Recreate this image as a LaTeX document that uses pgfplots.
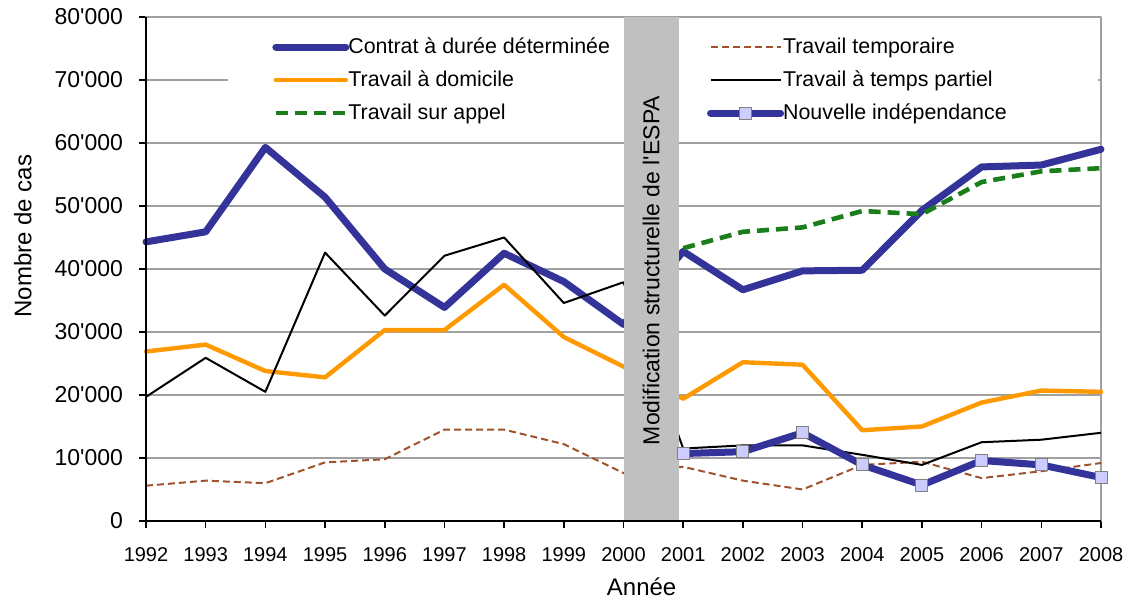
\documentclass[border=0pt]{standalone}
\usepackage{pgfplots}
\pgfplotsset{compat=1.18}
\usepackage{fontspec}
\setmainfont{Liberation Sans}[Ligatures=TeXOff]
\definecolor{cdd}{HTML}{333399}
\definecolor{ctemp}{HTML}{A0522D}
\definecolor{cdom}{HTML}{FF9900}
\definecolor{capp}{HTML}{1A7F1A}
\definecolor{cband}{HTML}{C0C0C0}
\definecolor{cgrid}{HTML}{A0A0A0}
\definecolor{csq}{HTML}{CCCCFF}
\begin{document}
\begin{tikzpicture}
\begin{axis}[
  scale only axis, width=477.5pt, height=252pt,
  xmin=1992, xmax=2008, ymin=0, ymax=80000,
  clip=false,
  scaled y ticks=false, scaled x ticks=false,
  xtick={1992,1993,1994,1995,1996,1997,1998,1999,2000,2001,2002,2003,2004,2005,2006,2007,2008},
  xticklabels={1992,1993,1994,1995,1996,1997,1998,1999,2000,2001,2002,2003,2004,2005,2006,2007,2008},
  ytick={0,10000,20000,30000,40000,50000,60000,70000,80000},
  yticklabels={0,10'000,20'000,30'000,40'000,50'000,60'000,70'000,80'000},
  xtick pos=left, ytick pos=left,
  tick align=outside, major tick length=3.5pt,
  tick style={black, line width=0.8pt},
  axis line style={cgrid, line width=1pt},
  ymajorgrids, grid style={cgrid, line width=1pt},
  xticklabel style={font=\fontsize{10}{12}\selectfont, yshift=-6pt},
  yticklabel style={font=\fontsize{11.5}{13}\selectfont, xshift=-4.5pt},
  xlabel={Année}, ylabel={Nombre de cas},
  label style={font=\fontsize{12}{14}\selectfont},
  xlabel style={at={(axis description cs:0.519,-0.131)}, anchor=center},
  ylabel style={at={(axis description cs:-0.129,0.565)}, anchor=center},
  legend columns=2,
  legend cell align=left,
  legend image code/.code={\draw[mark repeat=2,mark phase=2,#1] plot coordinates {(0pt,0pt) (17.5pt,0pt) (35pt,0pt)};},
  legend style={draw=none, fill=none, at={(axis description cs:0.1319,0.961)}, anchor=north west,
    inner xsep=0pt, inner ysep=0pt, column sep=-0.5pt, row sep=6.5pt,
    /tikz/every even column/.append style={column sep=48.5pt},
    nodes={inner sep=0pt, text height=8pt, text depth=2pt},
    font=\fontsize{10.7}{12}\selectfont},
  line join=round,
]
\addplot[cdd, line width=3.5pt, line cap=round, mark=none] coordinates {
(1992,44300)(1993,45900)(1994,59300)(1995,51400)(1996,40000)(1997,33900)(1998,42500)(1999,38000)(2000,31200)(2001,42800)(2002,36700)(2003,39700)(2004,39800)(2005,49300)(2006,56200)(2007,56500)(2008,59000)};
\addlegendentry{Contrat à durée déterminée}
\addplot[ctemp, line width=1pt, dash pattern=on 3.5pt off 2pt, mark=none] coordinates {
(1992,5600)(1993,6400)(1994,6000)(1995,9300)(1996,9800)(1997,14500)(1998,14500)(1999,12200)(2000,7600)(2001,8600)(2002,6400)(2003,5000)(2004,8900)(2005,9400)(2006,6800)(2007,7900)(2008,9200)};
\addlegendentry{Travail temporaire}
\addplot[cdom, line width=2.2pt, line cap=round, mark=none] coordinates {
(1992,26900)(1993,28000)(1994,23800)(1995,22800)(1996,30300)(1997,30300)(1998,37500)(1999,29200)(2000,24500)(2001,19400)(2002,25200)(2003,24800)(2004,14400)(2005,15000)(2006,18800)(2007,20700)(2008,20500)};
\addlegendentry{Travail à domicile}
\addplot[black, line width=1pt, mark=none] coordinates {
(1992,19700)(1993,25900)(1994,20500)(1995,42600)(1996,32600)(1997,42100)(1998,45000)(1999,34600)(2000,37900)(2001,11500)(2002,12000)(2003,12000)(2004,10500)(2005,8900)(2006,12500)(2007,12900)(2008,14000)};
\addlegendentry{Travail à temps partiel}
\addplot[capp, line width=2.3pt, dash pattern=on 6pt off 3.5pt, mark=none] coordinates {
(2001,43300)(2002,45900)(2003,46600)(2004,49200)(2005,48700)(2006,53800)(2007,55500)(2008,56000)};
\addlegendentry{Travail sur appel}
\addplot[cdd, line width=3.5pt, line cap=round, mark=square*, mark size=3pt,
  mark options={fill=csq, draw=gray, line width=0.5pt, solid}] coordinates {
(2001,10700)(2002,11000)(2003,14000)(2004,8900)(2005,5700)(2006,9600)(2007,8900)(2008,6900)};
\addlegendentry{Nouvelle indépendance}
\fill[white] (axis cs:1993.37,62300) rectangle (axis cs:2007.95,79300);
\fill[cband] (axis cs:2000,0) rectangle (axis cs:2000.93,80000);
\node[rotate=90, font=\fontsize{11.5}{13}\selectfont] at (axis cs:2000.465,39760) {Modification structurelle de l'ESPA};
\draw[black, line width=1pt] (rel axis cs:0,1) -- (rel axis cs:0,0) -- (rel axis cs:1,0);
\end{axis}
\pgfresetboundingbox
\path[use as bounding box] ([shift={(-73pt,-41pt)}]current axis.south west) rectangle ([shift={(14pt,8.5pt)}]current axis.north east);
\end{tikzpicture}
\end{document}
